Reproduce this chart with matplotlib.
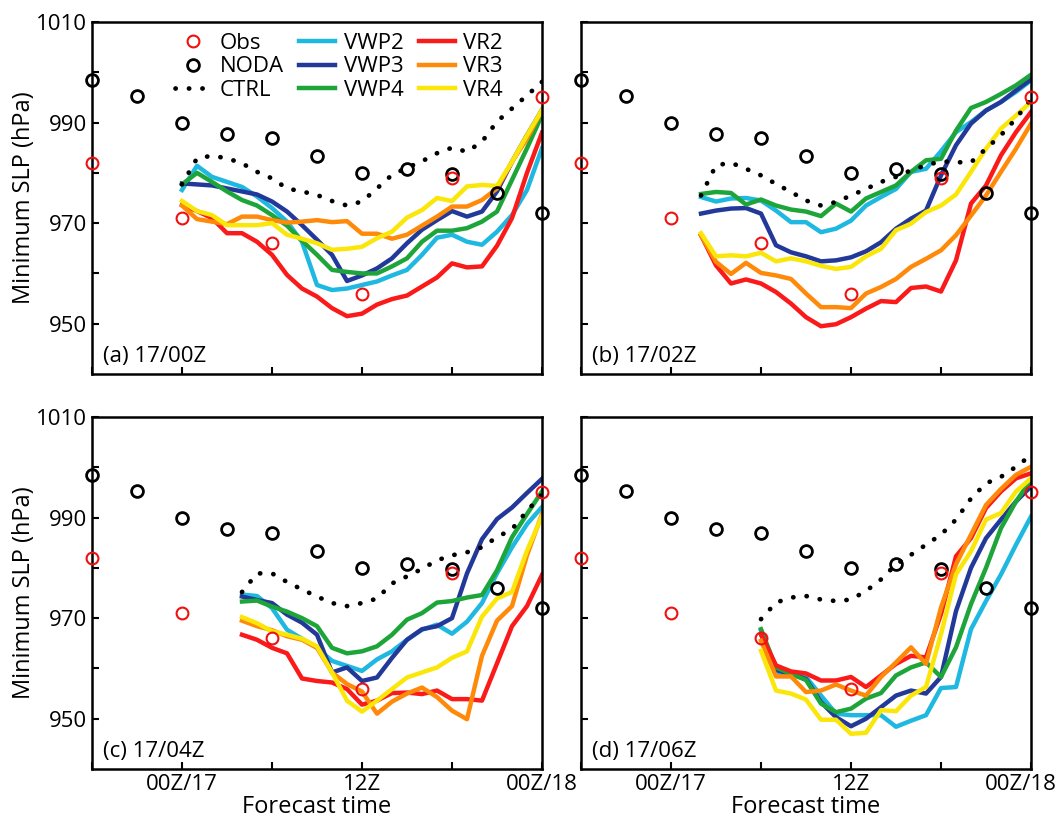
import matplotlib
matplotlib.use("Agg")
import matplotlib.pyplot as plt
import matplotlib.transforms as mtransforms
from matplotlib.lines import Line2D

plt.rcParams["font.family"] = ["Open Sans", "DejaVu Sans"]

# observed and no-DA reference points (hours from 00Z/17)
obs_hours = [-6, 0, 6, 12, 18, 24]
obs_slp = [982, 971, 966, 956, 979, 995]
noda_hours = [-6, -3, 0, 3, 6, 9, 12, 15, 18, 21, 24]
noda_slp = [998.5, 995.2, 990, 987.7, 987, 983.3, 980, 980.8, 979.8, 975.9, 972.1]

# panel (a) 17/00Z, hourly from 0 to 24
a_ctrl = [977.7, 982.9, 983.4, 982.9, 981.9, 980.2, 978.9, 976.9, 976.3, 975.6, 974.4, 973.5, 974.3,
          976.9, 979.6, 981.0, 982.3, 983.9, 985.0, 984.2, 986.2, 990.2, 992.8, 995.4, 998.1]
a_vwp2 = [976.6, 981.4, 979.2, 978.2, 977.2, 975.3, 973.0, 970.3, 966.3, 957.7, 956.7, 957.0, 957.7,
          958.4, 959.6, 960.7, 963.7, 967.1, 967.7, 966.3, 965.7, 968.3, 971.6, 976.6, 984.9]
a_vwp3 = [977.9, 977.7, 977.5, 976.9, 976.3, 975.7, 974.3, 972.3, 969.6, 966.7, 963.7, 958.5, 959.6,
          961.0, 963.0, 966.0, 968.7, 970.6, 972.4, 971.3, 972.3, 976.3, 982.2, 987.5, 992.5]
a_vwp4 = [977.7, 980.0, 978.2, 976.3, 974.6, 973.5, 971.6, 969.5, 966.5, 963.7, 960.7, 960.3, 960.0,
          960.0, 961.4, 963.0, 966.3, 968.5, 968.5, 969.0, 970.3, 972.3, 978.6, 984.9, 991.5]
a_vr2 = [973.6, 972.4, 971.0, 968.0, 968.0, 966.3, 963.7, 959.7, 957.0, 955.4, 953.1, 951.5, 952.0,
         953.8, 954.9, 955.6, 957.4, 959.2, 962.0, 961.2, 961.4, 965.5, 971.0, 980.0, 988.0]
a_vr3 = [973.5, 970.8, 970.3, 969.8, 971.3, 971.3, 970.6, 970.1, 970.3, 970.6, 970.2, 970.4, 967.9,
         967.9, 966.9, 967.7, 969.5, 971.3, 973.3, 973.3, 974.6, 976.9, 982.2, 986.8, 992.5]
a_vr4 = [974.4, 972.4, 971.6, 969.6, 969.6, 969.6, 970.0, 967.7, 966.9, 966.0, 964.7, 964.9, 965.3,
         967.0, 968.3, 971.1, 972.6, 975.0, 974.4, 977.3, 977.6, 977.4, 982.2, 987.5, 992.5]

# panel (b) 17/02Z, hourly from 2 to 24
b_ctrl = [975.5, 981.5, 982.0, 980.8, 979.5, 977.8, 976.2, 974.5, 973.5, 974.2, 975.5, 976.8,
          978.2, 979.2, 980.5, 981.5, 982.3, 982.1, 982.1, 984.8, 987.5, 990.8, 994.7]
b_vwp2 = [975.2, 974.3, 974.9, 975.0, 974.5, 972.5, 970.2, 970.2, 968.2, 968.9, 970.5, 973.5,
          975.2, 976.8, 980.2, 980.8, 984.3, 988.1, 990.1, 992.4, 994.1, 996.1, 998.4]
b_vwp3 = [971.9, 972.5, 972.9, 973.0, 971.9, 965.6, 964.2, 963.4, 962.4, 962.6, 963.2, 964.4,
          966.2, 968.9, 970.9, 972.5, 979.5, 985.5, 989.8, 992.4, 994.1, 996.4, 998.6]
b_vwp4 = [975.8, 976.2, 976.0, 973.7, 974.7, 973.5, 972.7, 972.3, 971.4, 973.9, 972.3, 974.9,
          976.2, 977.5, 980.2, 982.5, 982.8, 988.4, 992.9, 994.1, 995.7, 997.4, 999.5]
b_vr2 = [967.6, 961.6, 958.0, 958.8, 958.0, 956.3, 954.0, 951.3, 949.5, 949.9, 951.3, 953.0,
         954.5, 954.3, 957.1, 957.4, 956.4, 962.6, 973.9, 977.5, 983.5, 988.1, 992.1]
b_vr3 = [967.6, 962.3, 959.9, 962.1, 960.1, 959.6, 958.9, 956.0, 953.3, 953.3, 953.1, 956.0,
         957.3, 958.9, 961.3, 962.9, 964.6, 967.6, 971.5, 975.5, 980.2, 984.8, 989.8]
b_vr4 = [968.0, 963.4, 963.6, 963.4, 964.1, 962.4, 963.0, 962.4, 961.5, 960.9, 961.3, 963.4,
         964.9, 968.6, 969.9, 972.2, 973.5, 975.7, 980.2, 984.8, 988.8, 991.4, 994.1]

# panel (c) 17/04Z, hourly from 4 to 24
c_ctrl = [975.2, 978.9, 978.9, 977.2, 975.7, 974.3, 973.0, 972.4, 973.0, 973.9, 976.9,
          978.3, 979.8, 981.5, 982.5, 983.1, 984.1, 986.1, 987.7, 991.3, 994.6]
c_vwp2 = [974.7, 974.4, 972.0, 967.7, 965.9, 964.1, 961.5, 960.5, 959.5, 961.8, 963.4,
          965.7, 967.7, 968.7, 966.9, 969.3, 973.0, 978.9, 984.1, 988.7, 992.1]
c_vwp3 = [974.3, 973.6, 973.0, 970.7, 969.1, 966.7, 959.2, 960.2, 957.5, 958.2, 962.1,
          965.7, 967.8, 968.4, 970.0, 978.9, 985.7, 989.7, 992.0, 994.9, 997.7]
c_vwp4 = [973.3, 973.5, 972.3, 971.3, 970.0, 968.4, 964.1, 963.0, 963.4, 964.4, 966.7,
          969.7, 971.0, 973.1, 973.4, 974.1, 974.6, 979.5, 986.1, 990.7, 995.2]
c_vr2 = [966.7, 965.7, 964.1, 963.0, 958.0, 957.5, 957.2, 955.9, 952.8, 953.6, 955.1,
         955.2, 954.9, 955.6, 953.9, 953.9, 953.6, 961.0, 968.4, 972.4, 978.6]
c_vr3 = [969.5, 968.4, 967.6, 966.4, 965.7, 964.1, 959.2, 956.9, 955.4, 951.0, 953.4,
         955.0, 956.2, 954.3, 951.6, 949.9, 962.5, 969.5, 972.4, 982.5, 990.7]
c_vr4 = [970.2, 969.0, 967.4, 966.7, 965.9, 964.4, 959.2, 953.6, 951.4, 953.6, 955.9,
         958.2, 959.2, 960.2, 962.1, 963.4, 970.3, 973.9, 975.2, 983.4, 990.3]

# panel (d) 17/06Z, hourly from 6 to 24
d_ctrl = [969.8, 973.1, 974.1, 974.4, 973.7, 973.4, 973.7, 975.4, 977.7, 980.7,
          982.6, 984.6, 986.6, 989.6, 993.8, 996.8, 998.1, 1000.1, 1002.4]
d_vwp2 = [967.5, 959.2, 959.0, 958.3, 954.6, 951.0, 950.7, 950.7, 950.7, 948.4,
          949.6, 950.7, 956.1, 956.3, 967.8, 973.4, 978.7, 984.6, 990.2]
d_vwp3 = [966.8, 959.7, 958.9, 957.9, 953.3, 950.3, 948.5, 950.0, 952.3, 954.6,
          955.6, 955.0, 958.3, 971.4, 980.0, 985.9, 989.6, 993.2, 996.2]
d_vwp4 = [967.8, 960.2, 958.9, 957.7, 953.0, 951.3, 952.0, 954.0, 955.1, 958.6,
          960.2, 961.2, 958.3, 964.2, 972.8, 980.0, 987.9, 993.2, 997.5]
d_vr2 = [966.8, 960.6, 959.4, 959.0, 957.6, 957.6, 958.3, 956.3, 958.6, 960.9,
         962.5, 962.2, 970.8, 982.3, 985.9, 991.9, 995.2, 997.8, 998.8]
d_vr3 = [965.5, 958.4, 958.4, 955.3, 955.6, 956.8, 955.6, 954.6, 958.3, 961.2,
         964.2, 960.9, 972.1, 980.7, 986.6, 992.5, 995.7, 998.5, 1000.1]
d_vr4 = [963.5, 955.6, 955.0, 953.8, 949.8, 949.8, 947.0, 947.2, 951.7, 951.5,
         954.6, 956.3, 966.8, 978.7, 983.3, 989.6, 990.9, 995.2, 997.8]

panels = [
    ("(a) 17/00Z", 0, a_ctrl, a_vwp2, a_vwp3, a_vwp4, a_vr2, a_vr3, a_vr4),
    ("(b) 17/02Z", 2, b_ctrl, b_vwp2, b_vwp3, b_vwp4, b_vr2, b_vr3, b_vr4),
    ("(c) 17/04Z", 4, c_ctrl, c_vwp2, c_vwp3, c_vwp4, c_vr2, c_vr3, c_vr4),
    ("(d) 17/06Z", 6, d_ctrl, d_vwp2, d_vwp3, d_vwp4, d_vr2, d_vr3, d_vr4),
]

names = ["VWP2", "VWP3", "VWP4", "VR2", "VR3", "VR4"]
colors = ["#1fb8e0", "#23399a", "#1ea53a", "#fb1a1a", "#ff8a0a", "#fbe60a"]

fs = 16
fig = plt.figure(figsize=(10.6, 8.24), dpi=100)
W, H = 1060, 824
boxes = [(92, 22), (581, 22), (92, 417), (581, 417)]
pw, ph = 450, 352

for i, (label, start, ctrl, *runs) in enumerate(panels):
    x0, y0 = boxes[i]
    ax = fig.add_axes([x0 / W, 1 - (y0 + ph) / H, pw / W, ph / H])
    hours = list(range(start, 25))

    ax.plot(hours, ctrl, color="black", lw=3.4, linestyle=(0, (0.05, 2.8)),
            dash_capstyle="round", zorder=3, label="CTRL")
    for name, col, vals in zip(names, colors, runs):
        ax.plot(hours, vals, color=col, lw=3.2, zorder=2, label=name)

    ax.plot(obs_hours, obs_slp, "o", mfc="none", mec="#f01010", ms=8.5, mew=1.5,
            clip_on=False, zorder=5)
    ax.plot(noda_hours, noda_slp, "o", mfc="none", mec="black", ms=8.5, mew=2.0,
            clip_on=False, zorder=4)

    ax.set_xlim(-6, 24)
    ax.set_ylim(940, 1010)
    ax.set_xticks([-6, 0, 6, 12, 18, 24])
    ax.set_yticks([950, 960, 970, 980, 990, 1000, 1010])
    ax.tick_params(direction="in", length=5, width=1.5, top=False, right=False, labelsize=fs)
    for s in ax.spines.values():
        s.set_linewidth(1.8)

    if i >= 2:
        ax.set_xticklabels(["", "00Z/17", "", "12Z", "", "00Z/18"])
        ax.set_xlabel("Forecast time", fontsize=fs + 1, labelpad=0)
        if i == 3:
            # keep the last label inside the figure
            last = ax.get_xticklabels()[-1]
            shift = mtransforms.ScaledTranslation(-0.1, 0, fig.dpi_scale_trans)
            last.set_transform(last.get_transform() + shift)
    else:
        ax.set_xticklabels([])
    if i % 2 == 0:
        ax.set_yticklabels(["950", "", "970", "", "990", "", "1010"])
        ax.set_ylabel("Minimum SLP (hPa)", fontsize=fs + 1, labelpad=0)
    else:
        ax.set_yticklabels([])

    ax.text(0.025, 0.02, label, transform=ax.transAxes, fontsize=fs, ha="left", va="bottom")

    if i == 0:
        handles = [
            Line2D([], [], marker="o", ls="none", mfc="none", mec="#f01010", ms=8.5, mew=1.5),
            Line2D([], [], marker="o", ls="none", mfc="none", mec="black", ms=8.5, mew=2.0),
            Line2D([], [], color="black", lw=3.4, linestyle=(0, (0.05, 2.8)), dash_capstyle="round"),
        ] + [Line2D([], [], color=c, lw=3.2) for c in colors]
        labels = ["Obs", "NODA", "CTRL"] + names
        ax.legend(handles, labels, ncol=3, loc="upper left", bbox_to_anchor=(0.16, 1.0),
                  frameon=False, fontsize=fs, handlelength=1.6, handletextpad=0.4,
                  columnspacing=0.7, labelspacing=0.1, borderaxespad=0.1)

fig.savefig("out.png", dpi=100)
